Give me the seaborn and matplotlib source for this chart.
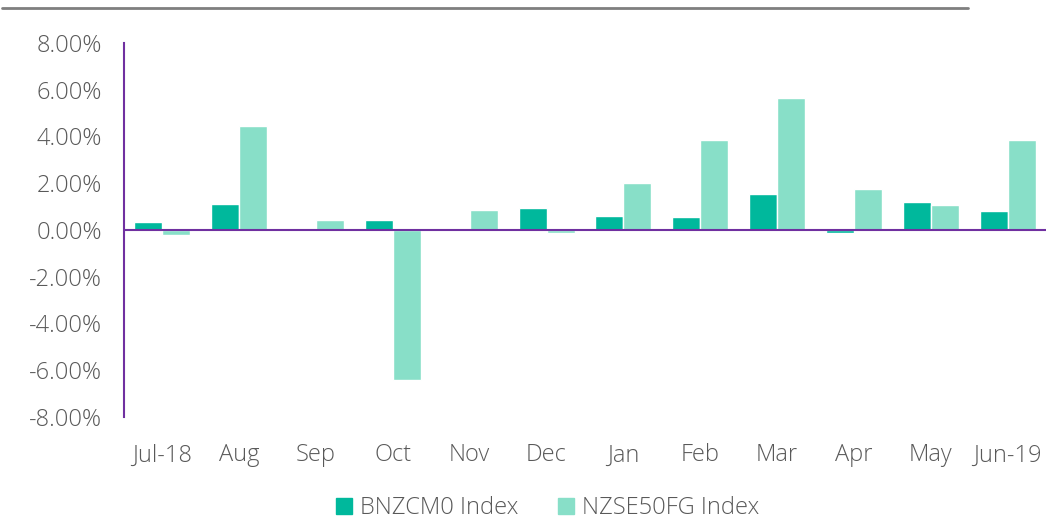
import matplotlib
matplotlib.use("Agg")
import matplotlib.pyplot as plt
import seaborn as sns
import pandas as pd
from matplotlib.lines import Line2D
from matplotlib.ticker import FuncFormatter

months = ["Jul-18", "Aug", "Sep", "Oct", "Nov", "Dec", "Jan", "Feb", "Mar", "Apr", "May", "Jun-19"]
bnzcm0 = [0.36, 1.10, -0.05, 0.42, 0.01, 0.94, 0.60, 0.55, 1.54, -0.15, 1.20, 0.80]
nzse50fg = [-0.22, 4.44, 0.42, -6.40, 0.85, -0.15, 2.00, 3.85, 5.64, 1.75, 1.07, 3.85]
series_names = ["BNZCM0 Index", "NZSE50FG Index"]
colors = ["#00B89C", "#88DFC8"]

df = pd.DataFrame({
    "month": months * 2,
    "value": bnzcm0 + nzse50fg,
    "series": [series_names[0]] * len(months) + [series_names[1]] * len(months),
})

sns.set_theme(style="white")
plt.rcParams["font.family"] = ["Open Sans", "DejaVu Sans"]
plt.rcParams["font.weight"] = "light"

fig = plt.figure(figsize=(10.46, 5.23), dpi=100)
ax = fig.add_axes([0.1185, 0.2027, 0.8815, 0.7151])

sns.barplot(data=df, x="month", y="value", hue="series", palette=colors,
            width=0.73, ax=ax, legend=False, saturation=1)

ax.set_ylim(-8, 8)
ax.set_xlim(-0.5, len(months) - 0.5)
ax.set_yticks([-8, -6, -4, -2, 0, 2, 4, 6, 8])
ax.yaxis.set_major_formatter(FuncFormatter(lambda v, p: f"{v:.2f}%"))
ax.set_xlabel("")
ax.set_ylabel("")
for s in ["top", "right", "bottom"]:
    ax.spines[s].set_visible(False)
ax.spines["left"].set_color("#7030A0")
ax.spines["left"].set_linewidth(1.5)
ax.axhline(0, color="#7030A0", linewidth=1.5, zorder=5)
ax.tick_params(axis="both", length=0, labelsize=17, colors="#595959")
ax.tick_params(axis="x", pad=19)
ax.tick_params(axis="y", pad=16)

handles = [Line2D([0], [0], marker="s", linestyle="none", markersize=12,
                  markerfacecolor=c, markeredgecolor=c) for c in colors]
fig.legend(handles, series_names, loc="center", bbox_to_anchor=(0.523, 0.028),
           ncol=2, frameon=False, fontsize=17, labelcolor="#595959",
           handlelength=0.8, handletextpad=0.3, columnspacing=1.6)

fig.add_artist(Line2D([0.002, 0.925], [0.985, 0.985], color="#7F7F7F", linewidth=2,
                      transform=fig.transFigure))

fig.savefig("out.png", dpi=100)
